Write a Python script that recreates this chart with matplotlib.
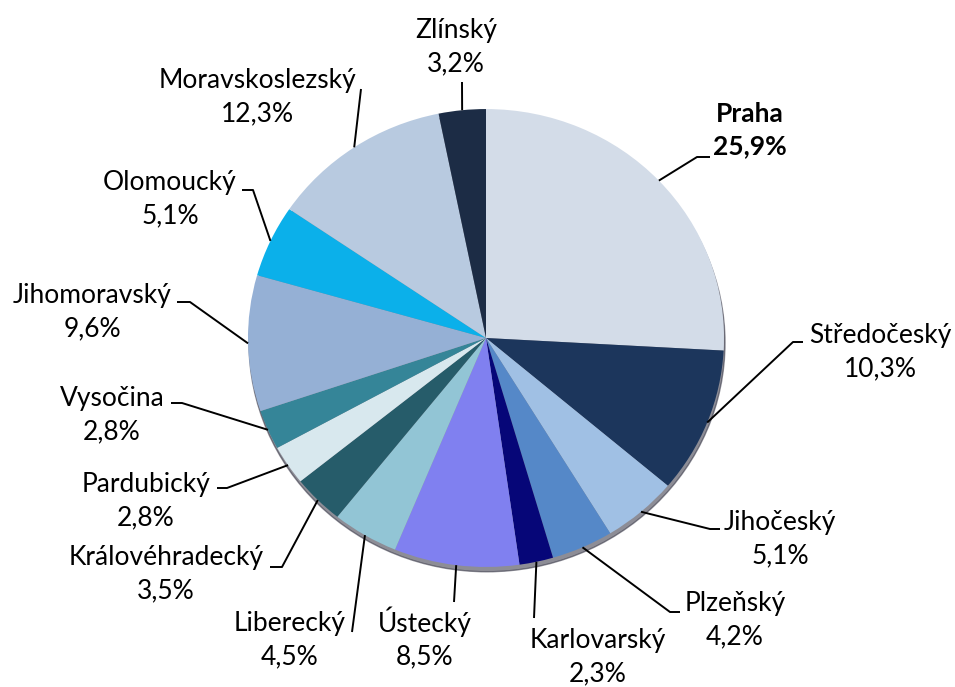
import matplotlib
matplotlib.use("Agg")
import matplotlib.pyplot as plt
import numpy as np

regions = ["Praha", "Středočeský", "Jihočeský", "Plzeňský", "Karlovarský", "Ústecký",
           "Liberecký", "Královéhradecký", "Pardubický", "Vysočina", "Jihomoravský",
           "Olomoucký", "Moravskoslezský", "Zlínský"]
shares = [25.9, 10.3, 5.1, 4.2, 2.3, 8.5, 4.5, 3.5, 2.8, 2.8, 9.6, 5.1, 12.3, 3.2]
colors = ["#D3DCE8", "#1C365C", "#A0C0E4", "#5588C8", "#060678", "#8080F0",
          "#92C5D5", "#265C6A", "#D8E8EE", "#358598", "#95B0D5", "#0BB0EA",
          "#B8CAE0", "#1C2C45"]

W, H = 955, 687
K = 0.962  # vertical squash of the pie (pixel units per data unit in y)
fig = plt.figure(figsize=(W / 100, H / 100), dpi=100)
ax = fig.add_axes([0, 0, 1, 1])


def py(y):
    return (H - y) / K


cx, cy, R = 486, py(338), 238

# shadow under the pie
shadow = plt.Circle((cx + 1, cy - 5), R, color="#303040", alpha=0.55, zorder=0)
ax.add_patch(shadow)

wedges, _ = ax.pie(shares, colors=colors, startangle=90, counterclock=False,
                   center=(cx, cy), radius=R, frame=True,
                   wedgeprops=dict(linewidth=0))
ax.set_xlim(0, W)
ax.set_ylim(0, H / K)
ax.set_aspect("auto")
ax.axis("off")

# label layout (pixel coords): text center, elbow point, end point of horizontal segment
layout = {
    "Praha":           dict(t=(750, 130), e=(697, 157), h=(710, 157)),
    "Středočeský":     dict(t=(880, 352), e=(793, 342), h=(803, 342)),
    "Jihočeský":       dict(t=(780, 539), e=(710, 529), h=(720, 529)),
    "Plzeňský":        dict(t=(735, 620), e=(670, 612), h=(680, 612)),
    "Karlovarský":     dict(t=(598, 657), e=(534, 618), h=(534, 618)),
    "Ústecký":         dict(t=(425, 638), e=(454, 602), h=(454, 602)),
    "Liberecký":       dict(t=(290, 640), e=(352, 632), h=(352, 632)),
    "Královéhradecký": dict(t=(166, 574), e=(282, 567), h=(270, 567)),
    "Pardubický":      dict(t=(146, 501), e=(227, 488), h=(217, 488)),
    "Vysočina":        dict(t=(112, 415), e=(182, 403), h=(171, 403)),
    "Jihomoravský":    dict(t=(92, 312), e=(190, 302), h=(177, 302)),
    "Olomoucký":       dict(t=(170, 199), e=(253, 190), h=(242, 190)),
    "Moravskoslezský": dict(t=(257, 97), e=(361, 89), h=(361, 89)),
    "Zlínský":         dict(t=(456, 47), e=(462, 82), h=(462, 82)),
}

total = sum(shares)
cum = 0.0
for name, val in zip(regions, shares):
    mid = 90 - (cum + val / 2) / total * 360
    cum += val
    ang = np.deg2rad(mid)
    ax_pt = (cx + R * np.cos(ang), cy + R * np.sin(ang))
    L = layout[name]
    ex, ey = L["e"][0], py(L["e"][1])
    hx, hy = L["h"][0], py(L["h"][1])
    ax.plot([ax_pt[0], ex, hx], [ax_pt[1], ey, hy], color="black", lw=1.4,
            solid_capstyle="butt", zorder=5)
    tx, ty = L["t"][0], py(L["t"][1])
    pct = f"{val:.1f}%".replace(".", ",")
    weight = "bold" if name == "Praha" else "normal"
    ax.text(tx, ty, f"{name}\n{pct}", ha="center", va="center", fontsize=19,
            family="Lato", fontweight=weight, linespacing=1.4, color="black")

fig.savefig("out.png", dpi=100)
